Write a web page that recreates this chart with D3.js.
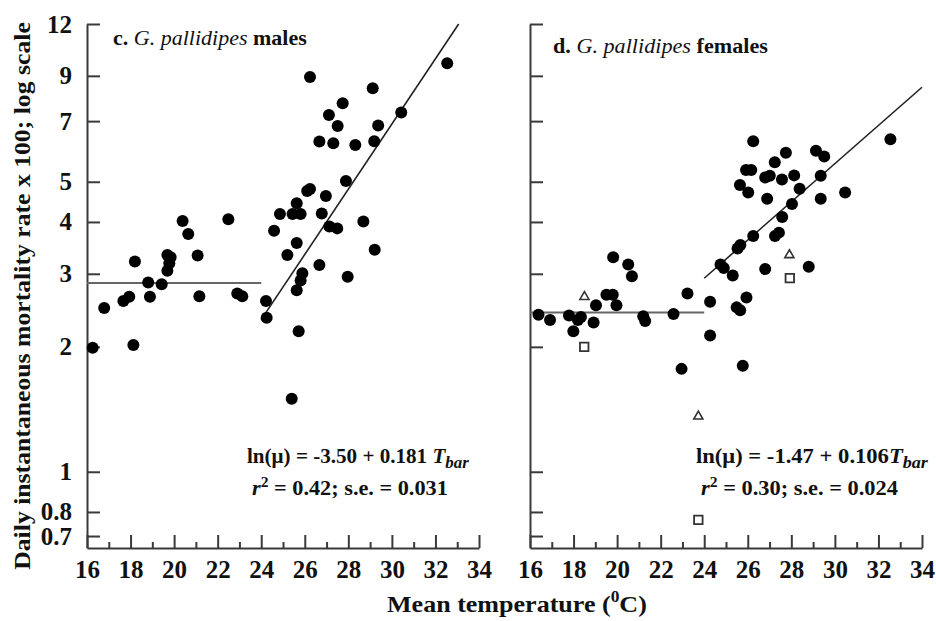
<!DOCTYPE html>
<html>
<head>
<meta charset="utf-8">
<script src="https://cdnjs.cloudflare.com/ajax/libs/d3/7.8.5/d3.min.js"></script>
<style>
  body { margin: 0; background: #fff; }
  svg text {
    font-family: "Liberation Serif", "Times New Roman", serif;
    font-weight: bold;
    fill: #111;
  }
</style>
</head>
<body>
<svg id="chart"></svg>
<script>
const width = 936;
const height = 621;

// Males (panel c): mean temperature and mortality x 100
const maleTemp = [16.26, 16.79, 17.67, 17.94, 18.13, 18.20, 18.81, 18.89, 19.43, 19.69,
  19.84, 19.78, 19.69, 20.39, 20.65, 21.08, 21.16, 22.49, 22.90, 23.13,
  24.22, 24.25, 24.59, 24.86, 25.63, 25.20, 25.44, 25.81, 25.63, 26.24,
  26.11, 26.24, 27.11, 27.51, 27.74, 26.67, 27.31, 28.32, 27.89, 26.97,
  26.78, 27.13, 27.49, 28.69, 29.21, 26.67, 25.89, 25.81, 25.63, 27.97,
  25.72, 25.40, 29.12, 29.37, 29.19, 30.43, 32.54];
const maleRate = [1.99, 2.48, 2.58, 2.64, 2.02, 3.21, 2.86, 2.64, 2.83, 3.33,
  3.29, 3.18, 3.05, 4.02, 3.74, 3.32, 2.65, 4.06, 2.69, 2.65,
  2.58, 2.35, 3.81, 4.18, 3.56, 3.33, 4.18, 4.18, 4.44, 4.80,
  4.75, 8.94, 7.24, 6.81, 7.73, 6.25, 6.19, 6.13, 5.02, 4.62,
  4.19, 3.90, 3.86, 4.01, 3.43, 3.15, 3.01, 2.89, 2.74, 2.95,
  2.18, 1.50, 8.40, 6.83, 6.26, 7.34, 9.65];

// Females (panel d)
const femaleTemp = [16.39, 16.92, 17.79, 17.99, 18.20, 18.34, 18.92, 19.03, 19.51, 19.80,
  19.97, 19.82, 20.51, 20.68, 21.20, 21.29, 22.59, 22.96, 23.23, 24.27,
  24.27, 24.75, 24.90, 25.31, 25.49, 25.65, 25.77, 25.94, 25.53, 25.66,
  26.25, 26.80, 27.25, 27.43, 27.58, 28.03, 28.38, 28.80, 29.35, 29.35,
  30.47, 32.55, 26.25, 25.92, 26.16, 25.64, 26.02, 26.80, 27.01, 26.89,
  27.24, 27.57, 27.75, 28.13, 29.13, 29.51];
const femaleRate = [2.39, 2.32, 2.38, 2.18, 2.32, 2.36, 2.29, 2.52, 2.67, 2.67,
  2.52, 3.29, 3.16, 2.96, 2.37, 2.31, 2.40, 1.77, 2.69, 2.57,
  2.13, 3.16, 3.10, 2.97, 2.49, 2.45, 1.80, 2.63, 3.45, 3.52,
  3.70, 3.08, 3.70, 3.77, 4.11, 4.42, 4.81, 3.12, 5.17, 4.55,
  4.71, 6.33, 6.26, 5.34, 5.34, 4.91, 4.71, 5.12, 5.17, 4.55,
  5.57, 5.06, 5.87, 5.18, 5.94, 5.75];

// Open symbols in panel d
const triTemp = [18.50, 27.91, 23.73];
const triRate = [2.64, 3.33, 1.36];
const sqTemp = [18.49, 27.93, 23.73];
const sqRate = [2.00, 2.93, 0.766];

// Fitted lines: flat mean below 24 C, ln(mu) = a + b*T above
const maleFit = { flat: 2.85, a: -3.50, b: 0.181 };
const femaleFit = { flat: 2.42, a: -1.47, b: 0.106 };
const breakTemp = 24;

const xMajor = [16, 18, 20, 22, 24, 26, 28, 30, 32, 34];
const xMinor = [17, 19, 21, 23, 25, 27, 29, 31, 33];
const yTicks = [0.7, 0.8, 1, 2, 3, 4, 5, 7, 9, 12];

const svg = d3.select("#chart").attr("width", width).attr("height", height);

const y = d3.scaleLog().domain([0.655, 12]).range([548, 24]);

function zip(xs, ys) {
  return xs.map((t, i) => ({ t: t, r: ys[i] }));
}

// The lettering in the figure is a little wider than Liberation Serif,
// so stretch each label horizontally to the width it has there.
function fitText(sel, x, yPos, target, rotate) {
  const w = sel.node().getComputedTextLength();
  const rot = rotate ? ` rotate(${rotate})` : "";
  sel.attr("transform", `translate(${x},${yPos})${rot} scale(${target / w},1)`);
}

function drawPanel(opts) {
  const x = d3.scaleLinear().domain([16, 34]).range([opts.left, opts.left + 392]);
  const g = svg.append("g");

  // y axis, ticks pointing inward
  const yAxis = d3.axisLeft(y)
    .tickValues(yTicks)
    .tickSize(-13)
    .tickSizeOuter(0)
    .tickPadding(15)
    .tickFormat(opts.labels ? d3.format("") : "");
  g.append("g")
    .attr("transform", `translate(${opts.left},0)`)
    .call(yAxis)
    .call((a) => a.selectAll("text").style("font-size", "25px").attr("font-family", null));

  // x axis with major and minor ticks
  g.append("g")
    .attr("transform", "translate(0,548)")
    .call(d3.axisBottom(x).tickValues(xMajor).tickSize(-13).tickSizeOuter(0).tickPadding(12).tickFormat(d3.format("")))
    .call((a) => a.selectAll("text").style("font-size", "25px").attr("font-family", null));
  g.append("g")
    .attr("transform", "translate(0,548)")
    .call(d3.axisBottom(x).tickValues(xMinor).tickSize(-6).tickSizeOuter(0).tickFormat(""))
    .call((a) => a.select(".domain").remove());

  g.selectAll(".domain, .tick line").attr("stroke", "#3a3a3a").attr("stroke-width", 2);

  // fitted lines
  const fit = opts.fit;
  g.append("line")
    .attr("x1", x(16)).attr("x2", x(breakTemp))
    .attr("y1", y(fit.flat)).attr("y2", y(fit.flat))
    .attr("stroke", "#666").attr("stroke-width", 2);
  const tEnd = Math.min(34, (Math.log(12) - fit.a) / fit.b);
  const fitPts = [breakTemp, tEnd].map((t) => ({ t: t, r: Math.exp(fit.a + fit.b * t) }));
  g.append("path")
    .datum(fitPts)
    .attr("fill", "none")
    .attr("stroke", "#222")
    .attr("stroke-width", 1.6)
    .attr("d", d3.line().x((d) => x(d.t)).y((d) => y(d.r)));

  // points
  g.selectAll(".dot")
    .data(zip(opts.temp, opts.rate))
    .enter()
    .append("circle")
    .attr("class", "dot")
    .attr("cx", (d) => x(d.t))
    .attr("cy", (d) => y(d.r))
    .attr("r", 6)
    .attr("fill", "#000");

  if (opts.open) {
    g.selectAll(".tri")
      .data(zip(triTemp, triRate))
      .enter()
      .append("path")
      .attr("transform", (d) => `translate(${x(d.t)},${y(d.r)})`)
      .attr("d", d3.symbol(d3.symbolTriangle, 36))
      .attr("fill", "none")
      .attr("stroke", "#333")
      .attr("stroke-width", 1.6);
    g.selectAll(".sq")
      .data(zip(sqTemp, sqRate))
      .enter()
      .append("path")
      .attr("transform", (d) => `translate(${x(d.t)},${y(d.r)})`)
      .attr("d", d3.symbol(d3.symbolSquare, 72))
      .attr("fill", "none")
      .attr("stroke", "#333")
      .attr("stroke-width", 1.8);
  }

  // panel title
  const title = g.append("text").style("font-size", "20px");
  title.append("tspan").text(opts.letter + " ");
  title.append("tspan").style("font-style", "italic").style("font-weight", "normal").text("G. pallidipes");
  title.append("tspan").text(" " + opts.sex);
  fitText(title, opts.titleX, opts.titleY, opts.titleW);

  // regression equation
  const eq = g.append("text").style("font-size", "20px");
  eq.append("tspan").text(`ln(μ) = ${fit.a.toFixed(2)} + ${fit.b.toFixed(3)}${opts.gap}`);
  eq.append("tspan").style("font-style", "italic").text("T");
  eq.append("tspan").style("font-style", "italic").style("font-size", "16px").attr("dy", 5).text("bar");
  fitText(eq, opts.eqX, 463, opts.eqW);

  const r2 = g.append("text").style("font-size", "20px");
  r2.append("tspan").style("font-style", "italic").text("r");
  r2.append("tspan").style("font-size", "14px").attr("dy", -8).text("2");
  r2.append("tspan").attr("dy", 8).text(` = ${opts.r2}; s.e. = ${opts.se}`);
  fitText(r2, opts.eqX + 5, 495, opts.r2W);
}

drawPanel({
  left: 87, labels: true, temp: maleTemp, rate: maleRate, fit: maleFit,
  letter: "c.", sex: "males", titleX: 113, titleY: 45, titleW: 194,
  eqX: 247, eqW: 222, r2W: 196, gap: " ", r2: "0.42", se: "0.031", open: false
});
drawPanel({
  left: 530, labels: false, temp: femaleTemp, rate: femaleRate, fit: femaleFit,
  letter: "d.", sex: "females", titleX: 553, titleY: 53, titleW: 215,
  eqX: 696, eqW: 232, r2W: 197, gap: "", r2: "0.30", se: "0.024", open: true
});

// axis titles
const yt = svg.append("text")
  .attr("text-anchor", "middle")
  .style("font-size", "24px")
  .text("Daily instantaneous mortality rate x 100; log scale");
fitText(yt, 30, 296, 548, -90);

const xt = svg.append("text").style("font-size", "24px");
xt.append("tspan").text("Mean temperature (");
xt.append("tspan").style("font-size", "16px").attr("dy", -10).text("0");
xt.append("tspan").attr("dy", 10).text("C)");
fitText(xt, 387, 612, 260);
</script>
</body>
</html>
